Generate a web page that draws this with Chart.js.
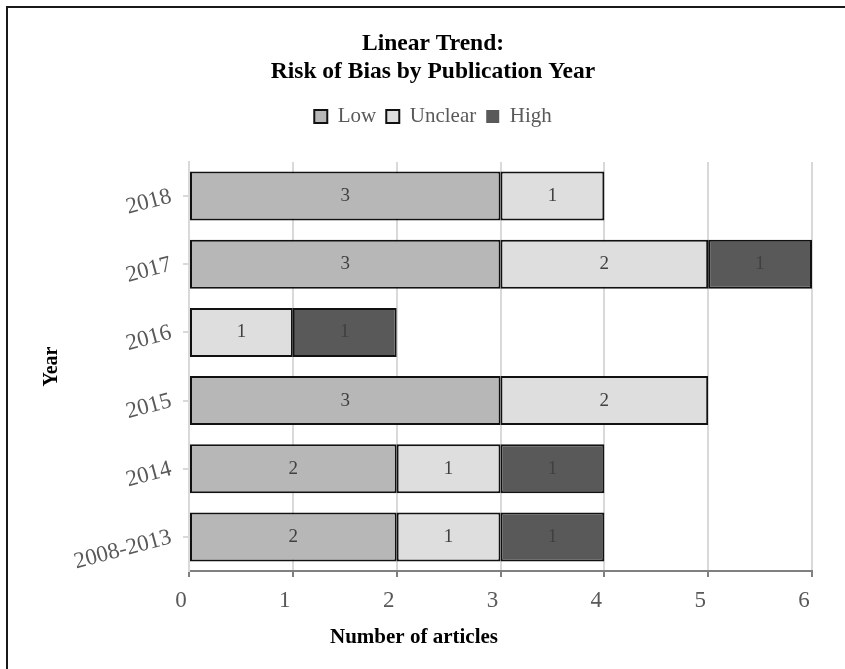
<!DOCTYPE html>
<html>
<head>
<meta charset="utf-8">
<script src="https://cdn.jsdelivr.net/npm/chart.js@4.4.0/dist/chart.umd.min.js"></script>
<style>
  body { margin: 0; background: #fff; overflow: hidden; }
  #frame { position: absolute; left: 6px; top: 6px; width: 1000px; height: 1000px; border: 2px solid #1a1a1a; }
  #chart { position: absolute; left: 0; top: 0; }
</style>
</head>
<body>
<div id="frame"></div>
<canvas id="chart" width="845" height="669"></canvas>
<script>
const years = ['2018', '2017', '2016', '2015', '2014', '2008-2013'];
const lowCounts = [3, 3, 0, 3, 2, 2];
const unclearCounts = [1, 2, 1, 2, 1, 1];
const highCounts = [0, 1, 1, 0, 1, 1];
const xTicks = [0, 1, 2, 3, 4, 5, 6];

const serif = 'Liberation Serif';

// value labels in the middle of each segment
const barValues = {
  id: 'barValues',
  afterDatasetsDraw(chart) {
    const ctx = chart.ctx;
    ctx.save();
    ctx.font = '19px "' + serif + '"';
    ctx.fillStyle = '#404040';
    ctx.textAlign = 'center';
    ctx.textBaseline = 'middle';
    chart.data.datasets.forEach((ds, i) => {
      chart.getDatasetMeta(i).data.forEach((bar, j) => {
        const v = ds.data[j];
        if (!v) return;
        const p = bar.getCenterPoint();
        ctx.fillText(String(v), p.x, p.y);
      });
    });
    ctx.restore();
  }
};

// the x title in the original sits left of the plot centre
const xTitle = {
  id: 'xTitle',
  afterDraw(chart) {
    const ctx = chart.ctx;
    ctx.save();
    ctx.font = 'bold 21px "' + serif + '"';
    ctx.fillStyle = '#000';
    ctx.textAlign = 'center';
    ctx.textBaseline = 'middle';
    ctx.fillText('Number of articles', 414, chart.scales.x.bottom - 31);
    ctx.restore();
  }
};

// extra room under the legend
const legendGap = {
  id: 'legendGap',
  beforeInit(chart) {
    const fit = chart.legend.fit;
    chart.legend.fit = function () {
      fit.bind(chart.legend)();
      this.height += 25;
    };
  }
};

function segment(label, data, color) {
  return {
    label,
    data,
    backgroundColor: color,
    borderColor: '#111',
    borderWidth: c => (c.raw ? 2 : 0),
    borderSkipped: false,
    barPercentage: 0.72,
    categoryPercentage: 1
  };
}

new Chart(document.getElementById('chart'), {
  type: 'bar',
  data: {
    labels: years,
    datasets: [
      segment('Low', lowCounts, '#b7b7b7'),
      segment('Unclear', unclearCounts, '#dedede'),
      segment('High', highCounts, '#595959')
    ]
  },
  options: {
    indexAxis: 'y',
    responsive: false,
    animation: false,
    layout: { padding: { left: 54, right: 33, top: 0, bottom: 0 } },
    scales: {
      x: {
        stacked: true,
        min: 0,
        max: 6,
        afterBuildTicks: s => { s.ticks = xTicks.map(v => ({ value: v })); },
        afterFit: s => { s.height = 98; },
        ticks: { font: { family: serif, size: 23 }, color: '#595959', padding: 10, labelOffset: -8 },
        grid: { color: '#d9d9d9', lineWidth: 2, tickColor: '#808080', tickLength: 6 },
        border: { color: '#808080', width: 2 },
        title: { display: false }
      },
      y: {
        stacked: true,
        afterFit: s => { s.width = 135; },
        ticks: { font: { family: serif, size: 23 }, color: '#595959', padding: 12, minRotation: 15, maxRotation: 15 },
        grid: { drawOnChartArea: false, color: '#d9d9d9', lineWidth: 2, tickLength: 6, offset: false },
        border: { color: '#d9d9d9', width: 2 },
        title: {
          display: true,
          text: 'Year',
          font: { family: serif, size: 20, weight: 'bold' },
          color: '#000',
          padding: { top: -14, bottom: 0 }
        }
      }
    },
    plugins: {
      title: {
        display: true,
        text: ['Linear Trend:', 'Risk of Bias by Publication Year'],
        font: { family: serif, size: 23.5, weight: 'bold', lineHeight: 1.2 },
        color: '#000',
        padding: { top: 30, bottom: 9.6 }
      },
      legend: {
        labels: {
          font: { family: serif, size: 21 },
          color: '#595959',
          boxWidth: 13,
          boxHeight: 13,
          padding: 10
        }
      },
      tooltip: { enabled: false }
    }
  },
  plugins: [barValues, xTitle, legendGap]
});
</script>
</body>
</html>
